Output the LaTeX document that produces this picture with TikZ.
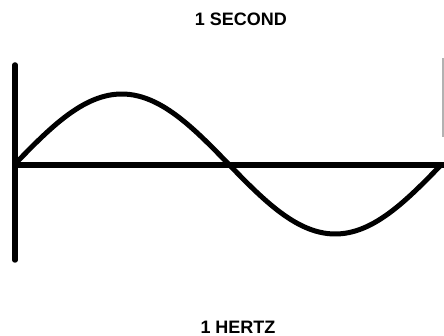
\documentclass[tikz,border=0pt]{standalone}
\usepackage{fontspec}
\setmainfont{Liberation Sans}
\begin{document}
\begin{tikzpicture}[x=1pt,y=-1pt,
  lbl/.style={font=\bfseries\fontsize{18}{20}\selectfont, inner sep=0pt},
  axis/.style={line width=5.5pt},
  wave/.style={line width=5pt}]
\useasboundingbox (0,0) rectangle (444,336);
\node[lbl] (sec) at (241,19.5) {1 SECOND};
\node[lbl] (hz) at (238,327) {1 HERTZ};
\coordinate (vtop) at (15,65);
\coordinate (vbot) at (15,260);
\coordinate (hl) at (15,165);
\coordinate (hr) at (444,165);
\draw[axis, line cap=round] (vtop) -- (vbot);
\draw[axis] (hl) -- (hr);
\draw[wave, domain=15:442, samples=120, smooth] plot (\x, {164 - 70*sin(0.843091*(\x-15))});
\draw[gray!60, line width=1.2pt] (443,58) -- (443,137);
\end{tikzpicture}
\end{document}
